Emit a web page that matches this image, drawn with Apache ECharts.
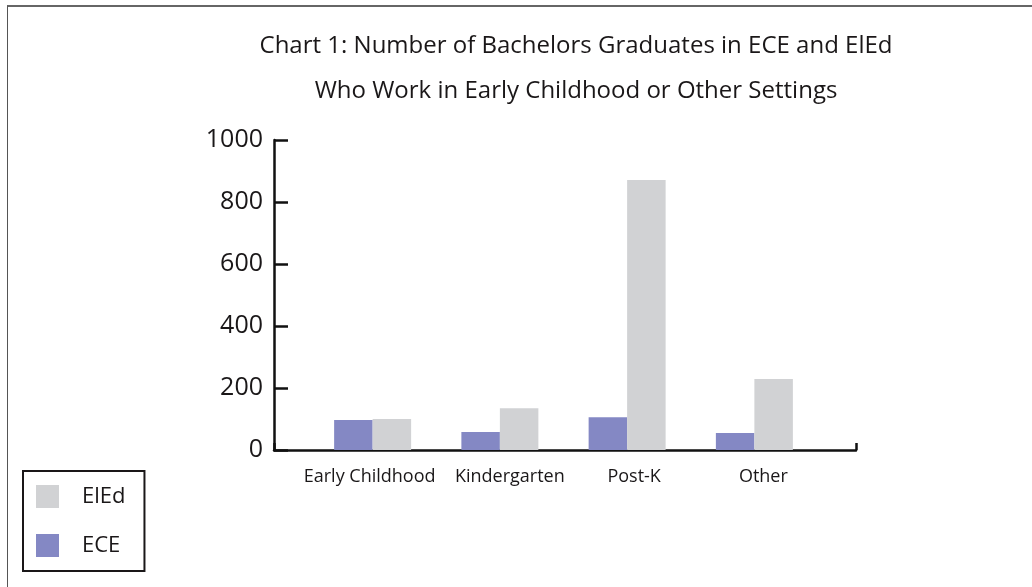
<!DOCTYPE html>
<html>
<head>
<meta charset="utf-8">
<script src="https://cdn.jsdelivr.net/npm/echarts@6/dist/echarts.min.js"></script>
<style>
  html, body { margin: 0; padding: 0; background: #fff; }
  #frame { position: absolute; left: 7px; top: 5px; width: 1025px; height: 582px;
           border-left: 1.5px solid #555; border-top: 2px solid #666; }
  #chart { position: absolute; left: 0; top: 0; width: 1032px; height: 587px; }
</style>
</head>
<body>
<div id="frame"></div>
<div id="chart"></div>
<script>
var titleLines = ['Chart 1: Number of Bachelors Graduates in ECE and ElEd',
                  'Who Work in Early Childhood or Other Settings'];
var categories = ['Early Childhood', 'Kindergarten', 'Post-K', 'Other'];
var seriesNames = ['ECE', 'ElEd'];
var eceValues = [97, 58, 106, 55];
var eledValues = [100, 135, 871, 229];
var yTicks = [0, 200, 400, 600, 800, 1000];

var FONT = 'Open Sans';
var TXT = '#1a1718';
// label nudges (style only): shift each category label horizontally
var labelShift = [-3, 10, 7, 9];
var categoryData = categories.map(function (c, i) {
  var s = labelShift[i];
  return { value: c, textStyle: { padding: s >= 0 ? [0, 0, 0, 2 * s] : [0, -2 * s, 0, 0] } };
});

var chart = echarts.init(document.getElementById('chart'), null, { renderer: 'canvas' });

chart.setOption({
  backgroundColor: 'transparent',
  animation: false,
  title: [
    { text: titleLines[0], left: 576, top: 34, padding: 0, textAlign: 'center',
      textStyle: { fontFamily: FONT, fontSize: 24, fontWeight: 'normal', color: TXT } },
    { text: titleLines[1], left: 576, top: 79, padding: 0, textAlign: 'center',
      textStyle: { fontFamily: FONT, fontSize: 24, fontWeight: 'normal', color: TXT } }
  ],
  legend: {
    data: [seriesNames[1], seriesNames[0]],
    orient: 'vertical',
    left: 23, top: 471,
    padding: [14, 19, 14, 13],
    itemWidth: 23, itemHeight: 23, itemGap: 26,
    borderColor: TXT, borderWidth: 2,
    icon: 'rect',
    textStyle: { fontFamily: FONT, fontSize: 22, color: TXT, padding: [0, 0, 0, 18] }
  },
  grid: [
    { left: 274, right: 176, top: 140, bottom: 137 },
    { left: 309, right: 214, top: 140, bottom: 137 }
  ],
  xAxis: [
    { gridIndex: 0, type: 'value', min: 0, max: 1, interval: 1,
      axisLine: { show: true, lineStyle: { color: '#111', width: 2.5 } },
      axisTick: { show: true, inside: true, length: 7, lineStyle: { color: '#111', width: 2.5 } },
      axisLabel: { show: false }, splitLine: { show: false } },
    { gridIndex: 1, type: 'category', data: categoryData,
      axisLine: { show: false }, axisTick: { show: false },
      axisLabel: { interval: 0, hideOverlap: false, fontFamily: FONT, fontSize: 18, color: TXT, margin: 18 } }
  ],
  yAxis: [
    { gridIndex: 0, type: 'value', min: 0, max: 1000, interval: 200,
      axisLine: { show: true, lineStyle: { color: '#111', width: 2.5 } },
      axisTick: { show: true, inside: true, length: 14, lineStyle: { color: '#111', width: 2.5 } },
      axisLabel: { fontFamily: FONT, fontSize: 25, color: TXT, margin: 11,
                   formatter: function (v) { return yTicks.indexOf(v) >= 0 ? String(v) : ''; } },
      splitLine: { show: false } },
    { gridIndex: 1, type: 'value', min: 0, max: 1000, show: false }
  ],
  series: [
    { name: seriesNames[0], type: 'bar', xAxisIndex: 1, yAxisIndex: 1,
      data: eceValues, barWidth: 38.5, barGap: '0%',
      itemStyle: { color: '#8488c4' } },
    { name: seriesNames[1], type: 'bar', xAxisIndex: 1, yAxisIndex: 1,
      data: eledValues, barWidth: 38.5, barGap: '0%',
      itemStyle: { color: '#d1d2d4' } }
  ]
});
</script>
</body>
</html>
